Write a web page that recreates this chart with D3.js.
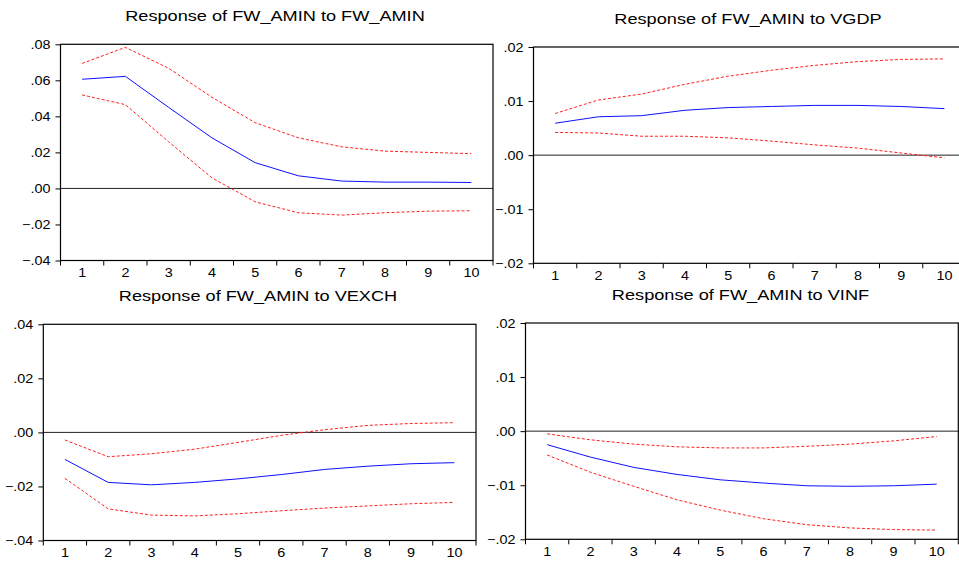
<!DOCTYPE html>
<html>
<head>
<meta charset="utf-8">
<script src="https://cdn.jsdelivr.net/npm/d3@7"></script>
<style>
  body { margin: 0; background: #fff; }
  svg { display: block; font-family: 'Liberation Sans', Arial, sans-serif; }
</style>
</head>
<body>
<div id="chart"></div>
<script>
// DATA ---------------------------
const periods = [1, 2, 3, 4, 5, 6, 7, 8, 9, 10];

const titles = [
  'Response of FW_AMIN to FW_AMIN',
  'Response of FW_AMIN to VGDP',
  'Response of FW_AMIN to VEXCH',
  'Response of FW_AMIN to VINF',
];

// FW_AMIN shock
const fwResponse = [0.0606, 0.0622, 0.0450, 0.0281, 0.0143, 0.0070, 0.0041, 0.0035, 0.0035, 0.0033];
const fwUpper = [0.0694, 0.0783, 0.0667, 0.0506, 0.0365, 0.0281, 0.0231, 0.0207, 0.0200, 0.0193];
const fwLower = [0.0519, 0.0465, 0.0259, 0.0059, -0.0074, -0.0135, -0.0148, -0.0135, -0.0126, -0.0124];

// VGDP shock
const gdpResponse = [0.0059, 0.0071, 0.0073, 0.0083, 0.0088, 0.0090, 0.0092, 0.0092, 0.0090, 0.0086];
const gdpUpper = [0.0077, 0.0102, 0.0113, 0.0131, 0.0146, 0.0157, 0.0166, 0.0173, 0.0177, 0.0178];
const gdpLower = [0.0042, 0.0041, 0.0035, 0.0035, 0.0032, 0.0026, 0.0019, 0.0013, 0.0004, -0.0005];

// VEXCH shock
const exchResponse = [-0.0100, -0.0185, -0.0194, -0.0185, -0.0172, -0.0156, -0.0137, -0.0125, -0.0116, -0.0112];
const exchUpper = [-0.0028, -0.0090, -0.0079, -0.0062, -0.0037, -0.0011, 0.0010, 0.0026, 0.0033, 0.0036];
const exchLower = [-0.0170, -0.0283, -0.0306, -0.0309, -0.0301, -0.0290, -0.0280, -0.0272, -0.0264, -0.0259];

// VINF shock
const infResponse = [-0.0025, -0.0048, -0.0067, -0.0080, -0.0090, -0.0096, -0.0101, -0.0102, -0.0101, -0.0098];
const infUpper = [-0.0005, -0.0016, -0.0024, -0.0029, -0.0031, -0.0031, -0.0028, -0.0024, -0.0018, -0.0010];
const infLower = [-0.0044, -0.0076, -0.0102, -0.0127, -0.0146, -0.0162, -0.0173, -0.0179, -0.0182, -0.0183];

const yTicksWide = [-0.04, -0.02, 0, 0.02, 0.04, 0.06, 0.08];
const yTicksGdp = [-0.02, -0.01, 0, 0.01, 0.02];
const yTicksExch = [-0.04, -0.02, 0, 0.02, 0.04];
const yTicksInf = [-0.02, -0.01, 0, 0.01, 0.02];

// LAYOUT -------------------------
const W = 959;
const H = 561;

const panels = [
  { title: titles[0], resp: fwResponse, up: fwUpper, lo: fwLower, ticks: yTicksWide,
    domain: [-0.04, 0.08], box: { l: 60.5, t: 44.3, r: 493, b: 260.5 }, tx: 275, ty: 20.5 },
  { title: titles[1], resp: gdpResponse, up: gdpUpper, lo: gdpLower, ticks: yTicksGdp,
    domain: [-0.02, 0.02], box: { l: 533.5, t: 47, r: 966, b: 263.3 }, tx: 748, ty: 24 },
  { title: titles[2], resp: exchResponse, up: exchUpper, lo: exchLower, ticks: yTicksExch,
    domain: [-0.04, 0.04], box: { l: 43.3, t: 324.3, r: 476, b: 540.5 }, tx: 258, ty: 300.5 },
  { title: titles[3], resp: infResponse, up: infUpper, lo: infLower, ticks: yTicksInf,
    domain: [-0.02, 0.02], box: { l: 525.5, t: 323, r: 958.3, b: 539.3 }, tx: 740.5, ty: 300 },
];

const fmt = (v) => {
  const s = d3.format('.2f')(v);
  return s.replace('0.', '.');
};

const svg = d3
  .select('#chart')
  .append('svg')
  .attr('width', W)
  .attr('height', H);

panels.forEach((p) => {
  const { l, t, r, b } = p.box;
  const g = svg.append('g');

  const xScale = d3.scaleBand().domain(periods).range([l, r]);
  const yScale = d3.scaleLinear().domain(p.domain).range([b, t]);
  const cx = (d) => xScale(d) + xScale.bandwidth() / 2;

  // title
  g.append('text')
    .attr('class', 'title')
    .attr('x', p.tx)
    .attr('y', p.ty)
    .attr('text-anchor', 'middle')
    .style('font-size', '15px')
    .attr('fill', '#000')
    .text(p.title);

  // zero line
  g.append('line')
    .attr('x1', l)
    .attr('x2', r)
    .attr('y1', yScale(0))
    .attr('y2', yScale(0))
    .attr('stroke', '#222')
    .attr('stroke-width', 1);

  // y axis
  const yAxis = d3.axisLeft(yScale).tickValues(p.ticks).tickSize(5).tickPadding(5).tickFormat(fmt);
  const gy = g.append('g').attr('transform', `translate(${l},0)`).call(yAxis);
  gy.select('.domain').remove();
  gy.selectAll('text').style('font-size', '12.5px').attr('fill', '#000');

  // x axis: labels centred in bands, ticks on band edges
  const xAxis = d3.axisBottom(xScale).tickSize(0).tickPadding(8);
  const gx = g.append('g').attr('transform', `translate(0,${b})`).call(xAxis);
  gx.select('.domain').remove();
  gx.selectAll('text').style('font-size', '12.5px').attr('fill', '#000');
  const edges = d3.range(periods.length + 1).map((i) => l + i * xScale.step());
  g.selectAll('.xedge')
    .data(edges)
    .enter()
    .append('line')
    .attr('class', 'xedge')
    .attr('x1', (d) => d)
    .attr('x2', (d) => d)
    .attr('y1', b)
    .attr('y2', b + 5)
    .attr('stroke', '#000');

  // frame
  g.append('rect')
    .attr('x', l)
    .attr('y', t)
    .attr('width', r - l)
    .attr('height', b - t)
    .attr('fill', 'none')
    .attr('stroke', '#000')
    .attr('stroke-width', 1.2);

  const line = d3
    .line()
    .x((d, i) => cx(periods[i]))
    .y((d) => yScale(d));

  g.append('path')
    .datum(p.up)
    .attr('d', line)
    .attr('fill', 'none')
    .attr('stroke', '#ff2020')
    .attr('stroke-width', 1)
    .attr('stroke-dasharray', '3,2');
  g.append('path')
    .datum(p.lo)
    .attr('d', line)
    .attr('fill', 'none')
    .attr('stroke', '#ff2020')
    .attr('stroke-width', 1)
    .attr('stroke-dasharray', '3,2');
  g.append('path')
    .datum(p.resp)
    .attr('d', line)
    .attr('fill', 'none')
    .attr('stroke', '#1010ff')
    .attr('stroke-width', 1);
});

// the original picture is a little stretched sideways
svg.selectAll('text').each(function () {
  const w = this.getComputedTextLength();
  const k = d3.select(this).classed('title') ? 1.21 : 1.15;
  d3.select(this).attr('textLength', w * k).attr('lengthAdjust', 'spacingAndGlyphs');
});
</script>
</body>
</html>
